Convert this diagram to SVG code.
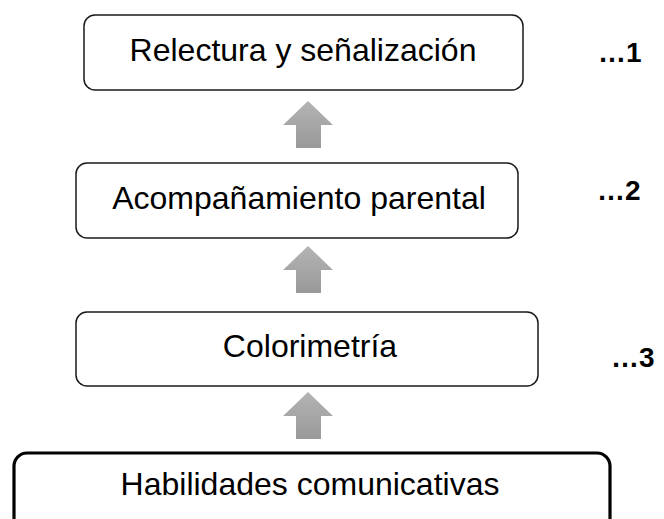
<svg xmlns="http://www.w3.org/2000/svg" width="664" height="519" viewBox="0 0 664 519">
<defs>
<linearGradient id="ag" x1="0" y1="0" x2="0" y2="1">
<stop offset="0" stop-color="#b4b4b4"/>
<stop offset="1" stop-color="#999999"/>
</linearGradient>
<path id="arr" d="M0,0 L25,24 L13,24 L13,47 L-12,47 L-12,24 L-25,24 Z"/>
</defs>
<style>
.box{fill:#ffffff;stroke:#1a1a1a;stroke-width:1.5}
.box4{fill:#ffffff;stroke:#000000;stroke-width:3.2}
.t{font-family:"Liberation Sans",Arial,sans-serif;font-size:32px;fill:#000;text-anchor:middle}
.n{font-family:"Liberation Sans",Arial,sans-serif;font-size:28px;font-weight:bold;fill:#000}
.a{fill:url(#ag)}
</style>
<rect width="664" height="519" fill="#ffffff"/>
<g id="connectors">
<use href="#arr" class="a" x="308" y="101"/>
<use href="#arr" class="a" x="308" y="246"/>
<use href="#arr" class="a" x="308" y="392"/>
</g>
<g id="n1">
<rect class="box" x="84" y="15" width="439" height="75" rx="11"/>
<text class="t" x="303" y="61">Relectura y señalización</text>
</g>
<g id="n2">
<rect class="box" x="76" y="163" width="442" height="75" rx="11"/>
<text class="t" x="299" y="209">Acompañamiento parental</text>
</g>
<g id="n3">
<rect class="box" x="76" y="312" width="462" height="74" rx="11"/>
<text class="t" x="310" y="357">Colorimetría</text>
</g>
<g id="n4">
<rect class="box4" x="14" y="453" width="596" height="80" rx="13"/>
<text class="t" x="310" y="495">Habilidades comunicativas</text>
</g>
<g id="labels">
<text class="n" x="598" y="62">…1</text>
<text class="n" x="597" y="200">…2</text>
<text class="n" x="611" y="367">…3</text>
</g>
</svg>
